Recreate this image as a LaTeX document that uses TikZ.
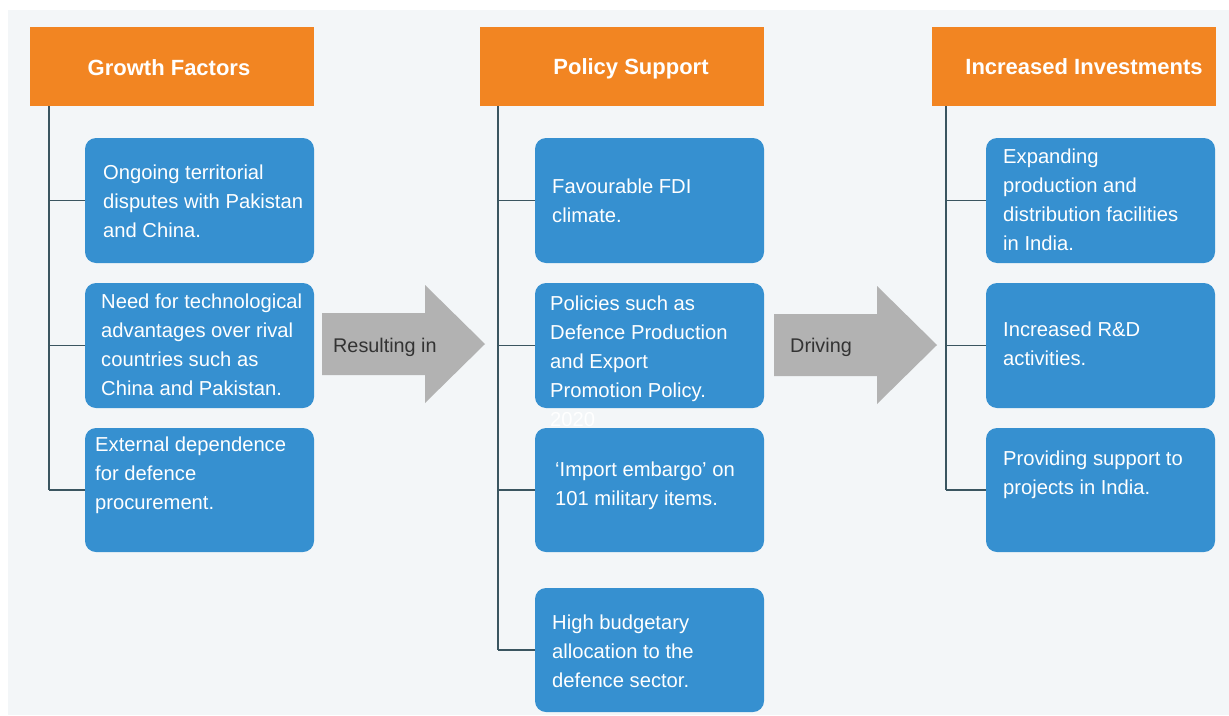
\documentclass[tikz,border=0pt]{standalone}
\usepackage{fontspec}
\setmainfont{Liberation Sans}
\definecolor{orangeh}{HTML}{F28522}
\definecolor{boxblue}{HTML}{3690D0}
\definecolor{bgc}{HTML}{F3F6F8}
\definecolor{linec}{HTML}{3A5560}
\definecolor{arrowg}{HTML}{B2B2B2}
\begin{document}
\begin{tikzpicture}[x=1pt,y=-1pt,
  header/.style={fill=orangeh, minimum width=284pt, minimum height=79pt, inner sep=0pt},
  bbox/.style={fill=boxblue, rounded corners=11pt, minimum width=229pt, minimum height=125pt, inner sep=0pt},
  htext/.style={text=white, font=\fontsize{22}{26}\selectfont\bfseries, inner sep=0pt, anchor=base},
  btext/.style={text=white, font=\fontsize{20.2}{29}\selectfont, align=left, anchor=west, inner sep=0pt},
  tree/.style={draw=linec, line width=1.3pt},
  bigarrow/.style={fill=arrowg},
  atext/.style={text=black!80, font=\fontsize{19.8}{23}\selectfont, anchor=base west, inner sep=0pt}]
\useasboundingbox (0,0) rectangle (1229,715);
\fill[white] (0,0) rectangle (1229,715);
\fill[bgc] (8,10) rectangle (1229,715);

% headers
\node[header] (h1) at (172,66.5) {};
\node[header] (h2) at (622,66.5) {};
\node[header] (h3) at (1074,66.5) {};
\node[htext] (h1t) at (169,75) {Growth Factors};
\node[htext] (h2t) at (631,74) {Policy Support};
\node[htext] (h3t) at (1084,74) {Increased Investments};

% boxes column 1
\node[bbox] (g1) at (199.5,200.5) {};
\node[bbox] (g2) at (199.5,345.5) {};
\node[bbox, minimum height=124pt] (g3) at (199.5,490) {};
% column 2
\node[bbox] (p1) at (649.5,200.5) {};
\node[bbox] (p2) at (649.5,345.5) {};
\node[bbox, minimum height=124pt] (p3) at (649.5,490) {};
\node[bbox, minimum height=124pt] (p4) at (649.5,650) {};
% column 3
\node[bbox] (i1) at (1100.5,200.5) {};
\node[bbox] (i2) at (1100.5,345.5) {};
\node[bbox, minimum height=124pt] (i3) at (1100.5,490) {};

% tree lines
\coordinate (c1) at (49,0);
\coordinate (c2) at (498,0);
\coordinate (c3) at (946,0);
\draw[tree] (h1.south -| c1) -- (g3.west -| c1);
\draw[tree] (h2.south -| c2) -- (p4.west -| c2);
\draw[tree] (h3.south -| c3) -- (i3.west -| c3);
\foreach \b in {g1,g2,g3} \draw[tree] (\b.west -| c1) -- (\b.west);
\foreach \b in {p1,p2,p3,p4} \draw[tree] (\b.west -| c2) -- (\b.west);
\foreach \b in {i1,i2,i3} \draw[tree] (\b.west -| c3) -- (\b.west);

% texts
\node[btext] (t11) at (103,201.5) {Ongoing territorial\\disputes with Pakistan\\and China.};
\node[btext] (t12) at (101,345) {Need for technological\\advantages over rival\\countries such as\\China and Pakistan.};
\node[btext] (t13) at (95,475.5) {External dependence\\for defence\\procurement.};
\node[btext] (t21) at (552,200.5) {Favourable FDI\\climate.};
\node[btext] (t22) at (550,348.5) {Policies such as\\Defence Production\\and Export\\Promotion Policy.};
\node[btext] (t22b) at (550,419.5) {2020};
\node[btext] (t23) at (555,486) {‘Import embargo’ on\\101 military items.};
\node[btext] (t24) at (552,651.5) {High budgetary\\allocation to the\\defence sector.};
\node[btext] (t31) at (1003,199.5) {Expanding\\production and\\distribution facilities\\in India.};
\node[btext] (t32) at (1003,344) {Increased R\&D\\activities.};
\node[btext] (t33) at (1003,475) {Providing support to\\projects in India.};

% big arrows
\fill[bigarrow] (322,313) -- (425,313) -- (425,285) -- (485,344) -- (425,403) -- (425,375) -- (322,375) -- cycle;
\fill[bigarrow] (774,314) -- (877,314) -- (877,286) -- (937,345) -- (877,404) -- (877,376) -- (774,376) -- cycle;
\node[atext] (a1t) at (333,352) {Resulting in};
\node[atext] (a2t) at (790,352) {Driving};
\end{tikzpicture}
\end{document}
